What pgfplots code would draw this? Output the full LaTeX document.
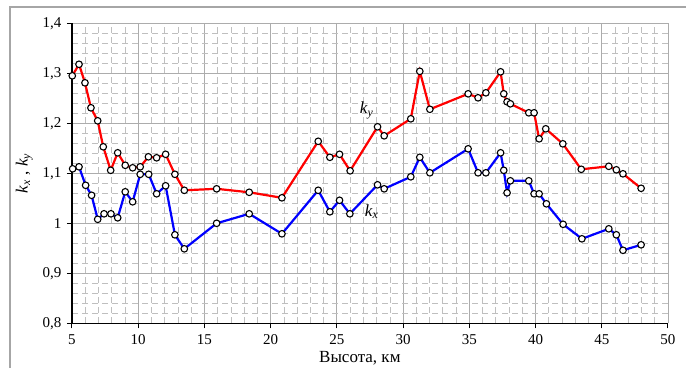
\documentclass[border=0pt]{standalone}
\usepackage{fontspec}
\setmainfont{Liberation Serif}
\usepackage{pgfplots}
\pgfplotsset{compat=1.18}
\begin{document}
\begin{tikzpicture}[x=1pt,y=1pt]
\useasboundingbox (0,0) rectangle (686,368);
\draw[gray!70, line width=1.5pt] (10,0) -- (10,361) -- (686,361);
\begin{axis}[
  at={(72pt,44.7pt)}, anchor=south west,
  scale only axis, width=596pt, height=300pt,
  xmin=5, xmax=50, ymin=0.8, ymax=1.4,
  xtick={5,10,15,20,25,30,35,40,45,50},
  ytick={0.8,0.9,1.0,1.1,1.2,1.3,1.4},
  minor x tick num=4, minor y tick num=4,
  grid=both,
  major grid style={gray!65, line width=0.9pt},
  minor grid style={gray!50, dash pattern=on 6pt off 4pt, line width=0.7pt},
  axis x line*=bottom, axis y line*=left,
  axis line style={black, line width=1.3pt, -},
  tick align=outside, major tick length=5pt, minor tick length=0pt,
  tick style={black, line width=1pt},
  ticklabel style={font=\fontsize{15}{18}\selectfont},
  xticklabel style={yshift=-3pt},
  yticklabel style={xshift=-2pt},
  /pgf/number format/.cd, use comma, assume math mode=true,
  /pgfplots/.cd,
  xlabel={Высота, км},
  xlabel style={font=\fontsize{17}{20}\selectfont, at={(axis description cs:0.483,-0.117)}, anchor=center},
  ylabel={\textit{k}\textsubscript{\textit{x}} , \textit{k}\textsubscript{\textit{y}}},
  ylabel style={font=\fontsize{17}{20}\selectfont, at={(axis description cs:-0.08,0.5)}, anchor=center, rotate=0},
  clip=false,
]
\addplot[red, line width=2.2pt, mark=*, mark size=3.3pt, mark options={fill=white, draw=black, line width=1.1pt}] coordinates {
(5.02,1.295) (5.53,1.318) (5.98,1.281) (6.43,1.231) (6.94,1.205) (7.36,1.153)
(7.92,1.106) (8.45,1.141) (9.02,1.116) (9.58,1.111) (10.15,1.113) (10.77,1.133)
(11.39,1.131) (12.07,1.138) (12.77,1.098) (13.48,1.066) (15.92,1.069) (18.38,1.062)
(20.85,1.051) (23.59,1.164) (24.47,1.132) (25.2,1.138) (26.0,1.105) (28.07,1.193)
(28.57,1.175) (30.58,1.209) (31.26,1.304) (32.02,1.228) (34.91,1.259) (35.66,1.251)
(36.25,1.261) (37.36,1.303) (37.6,1.259) (37.85,1.243) (38.1,1.239) (39.49,1.221)
(39.89,1.221) (40.27,1.169) (40.77,1.189) (42.06,1.159) (43.45,1.108) (45.53,1.114)
(46.1,1.107) (46.6,1.099) (47.97,1.070)
};
\addplot[blue, line width=2.2pt, mark=*, mark size=3.3pt, mark options={fill=white, draw=black, line width=1.1pt}] coordinates {
(5.05,1.109) (5.53,1.113) (6.03,1.076) (6.48,1.056) (6.94,1.008) (7.42,1.019)
(7.94,1.019) (8.45,1.011) (9.02,1.063) (9.58,1.043) (10.15,1.098) (10.79,1.098)
(11.39,1.059) (12.07,1.075) (12.77,0.977) (13.48,0.949) (15.92,1.000) (18.38,1.019)
(20.85,0.979) (23.59,1.066) (24.47,1.023) (25.2,1.046) (25.98,1.019) (28.07,1.077)
(28.57,1.069) (30.58,1.093) (31.26,1.132) (32.02,1.101) (34.91,1.149) (35.66,1.101)
(36.25,1.101) (37.36,1.141) (37.6,1.106) (37.85,1.061) (38.1,1.085) (39.49,1.085)
(39.89,1.059) (40.27,1.059) (40.82,1.039) (42.08,0.998) (43.5,0.969) (45.53,0.989)
(46.1,0.977) (46.6,0.946) (47.97,0.957)
};
\node[font=\fontsize{17}{20}\selectfont] at (axis cs:27.24,1.226) {\textit{k}\textsubscript{\textit{y}}};
\node[font=\fontsize{17}{20}\selectfont] at (axis cs:27.62,1.023) {\textit{k}\textsubscript{\textit{x}}};
\end{axis}
\end{tikzpicture}
\end{document}
